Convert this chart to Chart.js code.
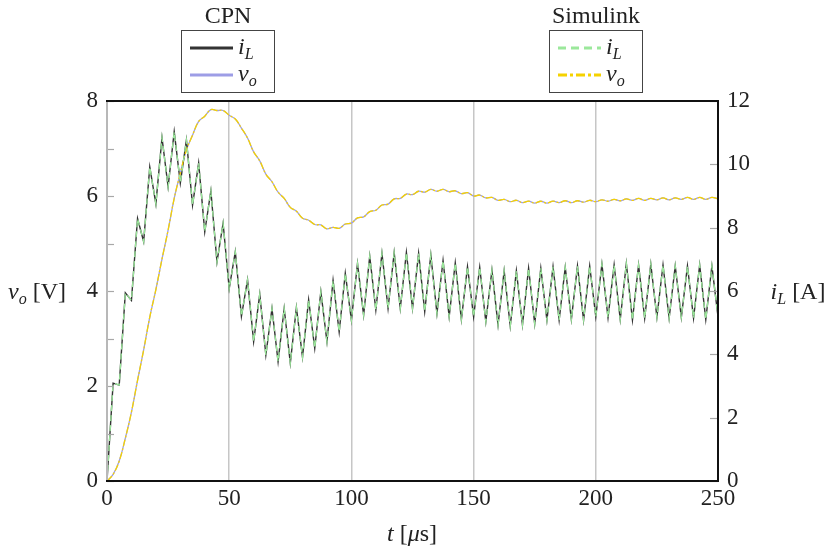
<!DOCTYPE html>
<html>
<head>
<meta charset="utf-8">
<script src="https://cdn.jsdelivr.net/npm/chart.js@4.4.1/dist/chart.umd.min.js"></script>
<style>
  body { margin: 0; background: #fff; }
  #wrap { position: relative; width: 833px; height: 550px; font-family: "Liberation Serif", "DejaVu Serif", serif; color: #222; }
  canvas { position: absolute; left: 0; top: 0; }
  .lbl { position: absolute; font-size: 24px; line-height: 1; white-space: nowrap; transform: translate(-50%, -50%); }
  .lbl sub, .item sub { font-size: 16px; vertical-align: baseline; position: relative; top: 5px; }
  .box { position: absolute; border: 1px solid #444; background: #fff; box-sizing: border-box; }
  .item { position: absolute; font-size: 24px; line-height: 1; white-space: nowrap; transform: translateY(-50%); }
</style>
</head>
<body>
<div id="wrap">
  <canvas id="c" width="833" height="550"></canvas>
</div>
<script>
// time samples in microseconds (switching vertices every 2.5 us)
const timeUs = [
  0, 2.5, 5, 7.5, 10, 12.5, 15, 17.5, 20, 22.5, 25, 27.5, 30, 32.5, 35, 37.5, 40, 42.5, 45, 47.5,
  50, 52.5, 55, 57.5, 60, 62.5, 65, 67.5, 70, 72.5, 75, 77.5, 80, 82.5, 85, 87.5, 90, 92.5, 95, 97.5,
  100, 102.5, 105, 107.5, 110, 112.5, 115, 117.5, 120, 122.5, 125, 127.5, 130, 132.5, 135, 137.5, 140, 142.5, 145, 147.5,
  150, 152.5, 155, 157.5, 160, 162.5, 165, 167.5, 170, 172.5, 175, 177.5, 180, 182.5, 185, 187.5, 190, 192.5, 195, 197.5,
  200, 202.5, 205, 207.5, 210, 212.5, 215, 217.5, 220, 222.5, 225, 227.5, 230, 232.5, 235, 237.5, 240, 242.5, 245, 247.5,
  250
];

// inductor current i_L [A]
const iL = [
  0, 3.09, 3.03, 5.94, 5.70, 8.29, 7.56, 9.92, 8.75, 10.84, 9.29, 11.03, 9.41, 10.77, 8.71, 10.04, 7.87, 9.16, 6.92, 8.14,
  6.08, 7.24, 5.20, 6.35, 4.40, 5.90, 3.98, 5.45, 3.77, 5.45, 3.72, 5.48, 3.91, 5.72, 4.19, 5.98, 4.40, 6.33, 4.71, 6.56,
  5.08, 6.87, 5.24, 7.10, 5.40, 7.19, 5.45, 7.21, 5.45, 7.22, 5.45, 7.19, 5.35, 7.14, 5.29, 6.96, 5.19, 6.89, 5.10, 6.77,
  5.19, 6.75, 5.03, 6.66, 4.93, 6.64, 4.89, 6.64, 4.93, 6.72, 4.96, 6.72, 5.08, 6.77, 5.08, 6.75, 5.10, 6.79, 5.08, 6.79,
  5.19, 6.85, 5.16, 6.82, 5.10, 6.87, 5.08, 6.82, 5.14, 6.85, 5.17, 6.82, 5.14, 6.79, 5.17, 6.79, 5.14, 6.82, 5.10, 6.79,
  5.19
];

// output voltage v_o [V]
const vo = [
  0, 0.14, 0.42, 0.90, 1.45, 2.12, 2.76, 3.45, 4.03, 4.67, 5.28, 5.95, 6.48, 6.97, 7.28, 7.57, 7.68, 7.82, 7.80, 7.80,
  7.70, 7.62, 7.43, 7.22, 6.93, 6.74, 6.46, 6.30, 6.08, 5.95, 5.76, 5.68, 5.53, 5.49, 5.40, 5.39, 5.31, 5.34, 5.32, 5.41,
  5.43, 5.54, 5.56, 5.67, 5.70, 5.81, 5.83, 5.94, 5.95, 6.04, 6.03, 6.10, 6.08, 6.14, 6.10, 6.14, 6.09, 6.11, 6.05, 6.07,
  6.00, 6.02, 5.96, 5.97, 5.91, 5.93, 5.88, 5.91, 5.86, 5.89, 5.85, 5.89, 5.85, 5.89, 5.86, 5.90, 5.86, 5.90, 5.87, 5.91,
  5.88, 5.92, 5.89, 5.93, 5.90, 5.94, 5.91, 5.95, 5.91, 5.95, 5.92, 5.96, 5.92, 5.96, 5.93, 5.97, 5.93, 5.97, 5.93, 5.97,
  5.94
];

// Simulink traces lie on top of the CPN ones
const simIL = iL;
const simVo = vo;

const xTicks = [0, 50, 100, 150, 200, 250];

const colCpnIL = '#333333';
const colCpnVo = '#9d9de6';
const colSimIL = '#9be89b';
const colSimVo = '#f5d200';

const pts = (ys) => timeUs.map((t, i) => ({x: t, y: ys[i]}));

// inward tick marks and the frame round the plot
const frame = {
  id: 'frame',
  afterDatasetsDraw(chart) {
    const {ctx, chartArea: a, scales} = chart;
    ctx.save();
    ctx.strokeStyle = '#a8a8a8';
    ctx.lineWidth = 1.2;
    scales.yL.ticks.forEach(t => {
      const y = Math.round(scales.yL.getPixelForValue(t.value)) + 0.5;
      ctx.beginPath(); ctx.moveTo(a.left, y); ctx.lineTo(a.left + 7, y); ctx.stroke();
    });
    scales.yR.ticks.forEach(t => {
      const y = Math.round(scales.yR.getPixelForValue(t.value)) + 0.5;
      ctx.beginPath(); ctx.moveTo(a.right - 8, y); ctx.lineTo(a.right, y); ctx.stroke();
    });
    ctx.lineWidth = 2;
    ctx.strokeStyle = '#b8b8b8';
    ctx.beginPath(); ctx.moveTo(a.left, a.top); ctx.lineTo(a.left, a.bottom); ctx.stroke();
    ctx.strokeStyle = '#111';
    ctx.beginPath();
    ctx.moveTo(a.left - 1, a.top); ctx.lineTo(a.right, a.top); ctx.lineTo(a.right, a.bottom); ctx.lineTo(a.left - 1, a.bottom);
    ctx.stroke();
    ctx.restore();
  }
};

const tickFont = {family: '"Liberation Serif", "DejaVu Serif", serif', size: 23};

new Chart(document.getElementById('c'), {
  type: 'line',
  data: {
    datasets: [
      {label: 'Simulink iL', data: pts(simIL), yAxisID: 'yR', borderColor: colSimIL, borderWidth: 1.3, borderDash: [6, 4], tension: 0, pointRadius: 0, order: 0},
      {label: 'Simulink vo', data: pts(simVo), yAxisID: 'yL', borderColor: colSimVo, borderWidth: 1.3, borderDash: [7, 2, 2, 2], tension: 0.4, pointRadius: 0, order: 0},
      {label: 'CPN iL', data: pts(iL), yAxisID: 'yR', borderColor: colCpnIL, borderWidth: 1.4, tension: 0, pointRadius: 0, order: 1},
      {label: 'CPN vo', data: pts(vo), yAxisID: 'yL', borderColor: colCpnVo, borderWidth: 1.3, tension: 0.4, pointRadius: 0, order: 1}
    ]
  },
  options: {
    responsive: false,
    animation: false,
    layout: {padding: {top: 101, left: 0, right: 0, bottom: 0}},
    plugins: {legend: {display: false}, tooltip: {enabled: false}},
    scales: {
      x: {
        type: 'linear', min: 0, max: 250,
        afterBuildTicks: s => { s.ticks = xTicks.map(v => ({value: v})); },
        afterFit: s => { s.height = 69; },
        grid: {color: '#c6c6c6', lineWidth: 1.5, drawTicks: false},
        border: {display: false},
        ticks: {font: tickFont, color: '#222', padding: 4, maxRotation: 0}
      },
      yL: {
        position: 'left', min: 0, max: 8,
        afterFit: s => { s.width = 107; },
        grid: {display: false, drawTicks: false},
        border: {display: false},
        ticks: {stepSize: 1, font: tickFont, color: '#222', padding: 9, callback: v => (v % 2 === 0 ? v : '')}
      },
      yR: {
        position: 'right', min: 0, max: 12,
        afterFit: s => { s.width = 115; },
        grid: {display: false, drawTicks: false},
        border: {display: false},
        ticks: {stepSize: 2, font: tickFont, color: '#222', padding: 9}
      }
    }
  },
  plugins: [frame]
});

// titles, legends and axis labels as page text
const wrap = document.getElementById('wrap');
function addLabel(html, x, y) {
  const d = document.createElement('div');
  d.className = 'lbl';
  d.style.left = x + 'px';
  d.style.top = y + 'px';
  d.innerHTML = html;
  wrap.appendChild(d);
}
function addLegend(title, left, entries) {
  addLabel(title, left + 47, 15);
  const box = document.createElement('div');
  box.className = 'box';
  box.style.left = left + 'px';
  box.style.top = '30px';
  box.style.width = '94px';
  box.style.height = '63px';
  let svg = '<svg width="94" height="63" style="position:absolute;left:-1px;top:-1px">';
  entries.forEach((e, i) => {
    const y = 18 + i * 27;
    svg += `<line x1="9" y1="${y}" x2="52" y2="${y}" stroke="${e.color}" stroke-width="3" stroke-dasharray="${e.dash || 'none'}"/>`;
  });
  svg += '</svg>';
  box.innerHTML = svg;
  entries.forEach((e, i) => {
    const d = document.createElement('div');
    d.className = 'item';
    d.style.left = '56px';
    d.style.top = (15 + i * 27) + 'px';
    d.innerHTML = e.text;
    box.appendChild(d);
  });
  wrap.appendChild(box);
}

addLegend('CPN', 181, [
  {color: colCpnIL, text: '<i>i</i><sub><i>L</i></sub>'},
  {color: colCpnVo, text: '<i>v</i><sub><i>o</i></sub>'}
]);
addLegend('Simulink', 549, [
  {color: colSimIL, text: '<i>i</i><sub><i>L</i></sub>', dash: '8 5'},
  {color: colSimVo, text: '<i>v</i><sub><i>o</i></sub>', dash: '9 3 3 3'}
]);

addLabel('<i>v</i><sub><i>o</i></sub> [V]', 37, 291);
addLabel('<i>i</i><sub><i>L</i></sub> [A]', 798, 291);
addLabel('<i>t</i> [<i>μ</i>s]', 412, 533);
</script>
</body>
</html>
